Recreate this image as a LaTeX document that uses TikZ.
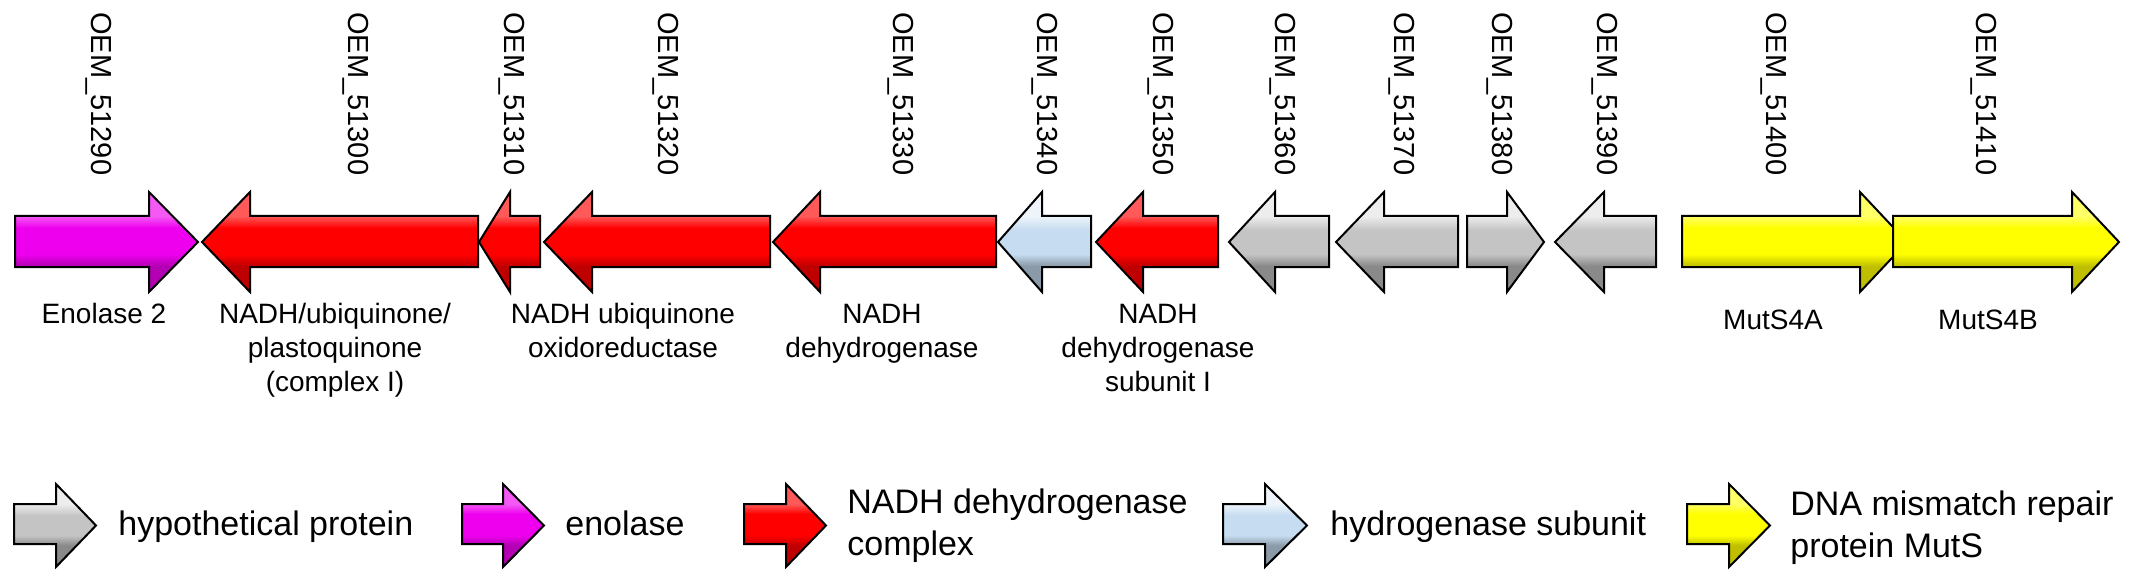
\documentclass[tikz,border=0pt]{standalone}
\usepackage{fontspec}
\setmainfont{Liberation Sans}
\usepackage{tikz}

\definecolor{hypgrey}{RGB}{196,196,196}
\definecolor{enolpink}{RGB}{238,0,238}
\definecolor{nadhred}{RGB}{255,0,0}
\definecolor{hydblue}{RGB}{198,220,240}
\definecolor{mutsyellow}{RGB}{255,255,0}

\pgfdeclareverticalshading{hypshade}{100bp}{color(0bp)=(hypgrey!70!black); color(38bp)=(hypgrey!70!black); color(44bp)=(hypgrey); color(56bp)=(hypgrey); color(63bp)=(hypgrey!30!white); color(100bp)=(hypgrey!30!white)}
\pgfdeclareverticalshading{enolshade}{100bp}{color(0bp)=(enolpink!75!black); color(38bp)=(enolpink!75!black); color(44bp)=(enolpink); color(57bp)=(enolpink); color(63bp)=(enolpink!65!white); color(100bp)=(enolpink!65!white)}
\pgfdeclareverticalshading{nadhshade}{100bp}{color(0bp)=(nadhred!75!black); color(38bp)=(nadhred!75!black); color(44bp)=(nadhred); color(57bp)=(nadhred); color(63bp)=(nadhred!65!white); color(100bp)=(nadhred!65!white)}
\pgfdeclareverticalshading{hydshade}{100bp}{color(0bp)=(hydblue!70!black); color(38bp)=(hydblue!70!black); color(44bp)=(hydblue); color(56bp)=(hydblue); color(63bp)=(hydblue!30!white); color(100bp)=(hydblue!30!white)}
\pgfdeclareverticalshading{mutsshade}{100bp}{color(0bp)=(mutsyellow!75!black); color(38bp)=(mutsyellow!75!black); color(44bp)=(mutsyellow); color(57bp)=(mutsyellow); color(63bp)=(mutsyellow!60!white); color(100bp)=(mutsyellow!60!white)}

\begin{document}
\begin{tikzpicture}[x=0.5pt, y=-0.5pt,
        gene/.style={draw=black, line width=1pt, line join=miter, shade},
        hyp/.style={gene, shading=hypshade},
        enol/.style={gene, shading=enolshade},
        nadh/.style={gene, shading=nadhshade},
        hyd/.style={gene, shading=hydshade},
        muts/.style={gene, shading=mutsshade},
        gid/.style={rotate=-90, anchor=west, inner sep=0pt, font=\fontsize{14.5}{17}\selectfont},
        glab/.style={anchor=base, align=center, inner sep=0pt, font=\fontsize{14}{17}\selectfont},
        leg/.style={anchor=base west, align=left, inner sep=0pt, font=\fontsize{17}{21}\selectfont}]
        \useasboundingbox (0,0) rectangle (2133,583);

        \filldraw[enol] (15,216) -- (149,216) -- (149,192) -- (198,242) -- (149,292) -- (149,267) -- (15,267) -- cycle;
        \filldraw[nadh] (478,216) -- (250,216) -- (250,192) -- (202,242) -- (250,292) -- (250,267) -- (478,267) -- cycle;
        \filldraw[nadh] (540,216) -- (510,216) -- (510,192) -- (479,242) -- (510,292) -- (510,267) -- (540,267) -- cycle;
        \filldraw[nadh] (770,216) -- (592,216) -- (592,192) -- (544,242) -- (592,292) -- (592,267) -- (770,267) -- cycle;
        \filldraw[nadh] (996,216) -- (820,216) -- (820,192) -- (773,242) -- (820,292) -- (820,267) -- (996,267) -- cycle;
        \filldraw[hyd] (1091,216) -- (1042,216) -- (1042,192) -- (998,242) -- (1042,292) -- (1042,267) -- (1091,267) -- cycle;
        \filldraw[nadh] (1218,216) -- (1143,216) -- (1143,192) -- (1096,242) -- (1143,292) -- (1143,267) -- (1218,267) -- cycle;
        \filldraw[hyp] (1329,216) -- (1275,216) -- (1275,192) -- (1229,242) -- (1275,292) -- (1275,267) -- (1329,267) -- cycle;
        \filldraw[hyp] (1458,216) -- (1384,216) -- (1384,192) -- (1336,242) -- (1384,292) -- (1384,267) -- (1458,267) -- cycle;
        \filldraw[hyp] (1467,216) -- (1507,216) -- (1507,192) -- (1544,242) -- (1507,292) -- (1507,267) -- (1467,267) -- cycle;
        \filldraw[hyp] (1656,216) -- (1604,216) -- (1604,192) -- (1555,242) -- (1604,292) -- (1604,267) -- (1656,267) -- cycle;
        \filldraw[muts] (1682,216) -- (1860,216) -- (1860,192) -- (1907,242) -- (1860,292) -- (1860,267) -- (1682,267) -- cycle;
        \filldraw[muts] (1893,216) -- (2072,216) -- (2072,192) -- (2119,242) -- (2072,292) -- (2072,267) -- (1893,267) -- cycle;

        \node[gid] (id51290) at (99,12) {OEM\_51290};
        \node[gid] (id51300) at (356,12) {OEM\_51300};
        \node[gid] (id51310) at (512,12) {OEM\_51310};
        \node[gid] (id51320) at (666,12) {OEM\_51320};
        \node[gid] (id51330) at (901,12) {OEM\_51330};
        \node[gid] (id51340) at (1045,12) {OEM\_51340};
        \node[gid] (id51350) at (1161,12) {OEM\_51350};
        \node[gid] (id51360) at (1283,12) {OEM\_51360};
        \node[gid] (id51370) at (1402,12) {OEM\_51370};
        \node[gid] (id51380) at (1500,12) {OEM\_51380};
        \node[gid] (id51390) at (1605,12) {OEM\_51390};
        \node[gid] (id51400) at (1774,12) {OEM\_51400};
        \node[gid] (id51410) at (1984,12) {OEM\_51410};

        \node[glab] (enolase2) at (104,323) {Enolase 2};
        \node[glab] (plastoq) at (335,391) {NADH/ubiquinone/\\plastoquinone\\(complex I)};
        \node[glab] (oxidored) at (623,357) {NADH ubiquinone\\oxidoreductase};
        \node[glab] (nadhdh) at (882,357) {NADH\\dehydrogenase};
        \node[glab] (subunitI) at (1158,391) {NADH\\dehydrogenase\\subunit I};
        \node[glab] (muts4a) at (1773,329) {MutS4A};
        \node[glab] (muts4b) at (1988,329) {MutS4B};

        \filldraw[hyp] (14,504) -- (56,504) -- (56,484) -- (96,525.5) -- (56,567) -- (56,544) -- (14,544) -- cycle;
        \filldraw[enol] (462,504) -- (503,504) -- (503,484) -- (544,525.5) -- (503,567) -- (503,544) -- (462,544) -- cycle;
        \filldraw[nadh] (744,504) -- (786,504) -- (786,484) -- (826,525.5) -- (786,567) -- (786,544) -- (744,544) -- cycle;
        \filldraw[hyd] (1223,504) -- (1265,504) -- (1265,484) -- (1307,525.5) -- (1265,567) -- (1265,544) -- (1223,544) -- cycle;
        \filldraw[muts] (1687,504) -- (1729,504) -- (1729,484) -- (1770,525.5) -- (1729,567) -- (1729,544) -- (1687,544) -- cycle;

        \node[leg] (leghyp) at (118,535) {hypothetical protein};
        \node[leg] (legenol) at (565,535) {enolase};
        \node[leg] (legnadh) at (847,555) {NADH dehydrogenase\\complex};
        \node[leg] (leghyd) at (1330,535) {hydrogenase subunit};
        \node[leg] (legmuts) at (1790,557) {DNA mismatch repair\\protein MutS};
    \end{tikzpicture}
\end{document}
